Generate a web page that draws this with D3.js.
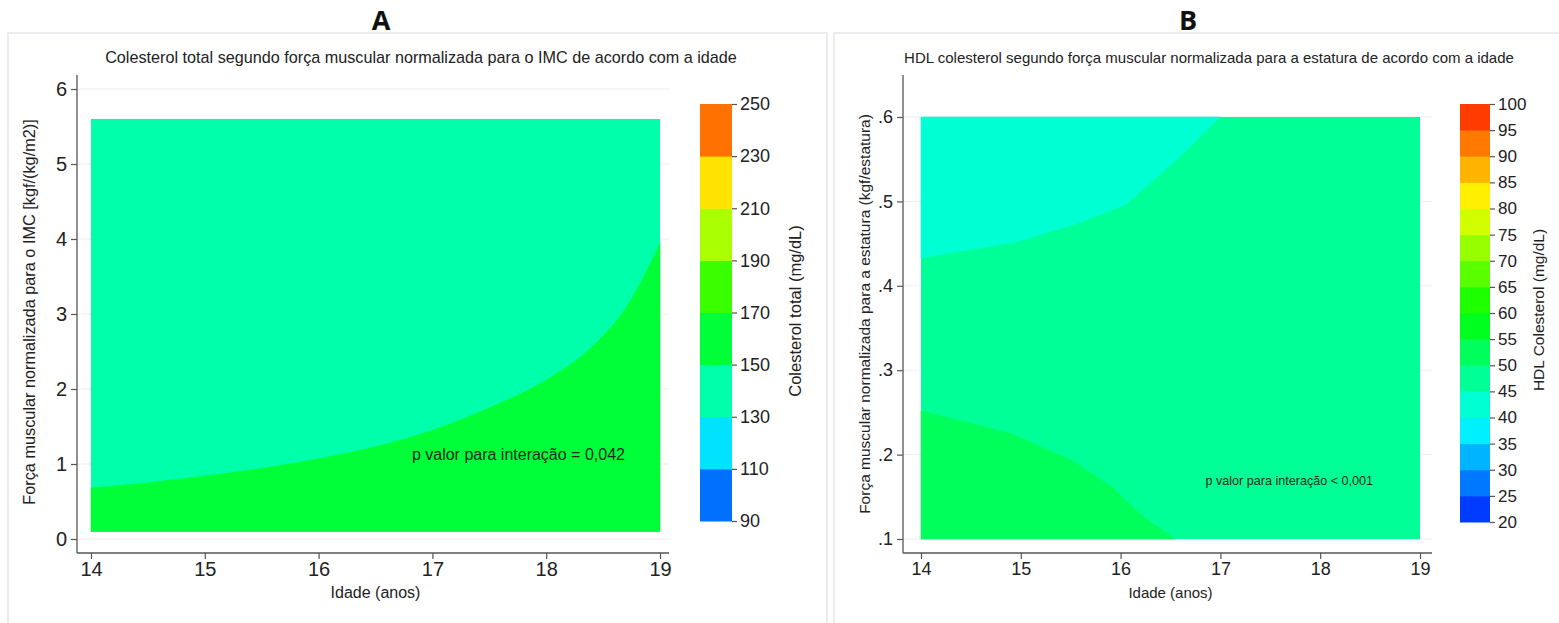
<!DOCTYPE html>
<html>
<head>
<meta charset="utf-8">
<script src="https://cdn.jsdelivr.net/npm/d3@7"></script>
<style>
  html, body { margin: 0; padding: 0; background: #fff; }
  svg { display: block; font-family: "Liberation Sans", Arial, sans-serif; }
</style>
</head>
<body>
<svg id="chart" width="1559" height="623"></svg>
<script>
// ---- data ----
const ageTicks = [14, 15, 16, 17, 18, 19];
const ageDomain = [14, 19];

// Panel A: total cholesterol by BMI-normalised strength and age
const forceTicksA = [0, 1, 2, 3, 4, 5, 6];
const forceRangeA = [0.1, 5.6];
const cutsA = [90, 110, 130, 150, 170, 190, 210, 230, 250];
// contour line separating the 130–150 band (above) from the 150–170 band (below)
const contourA150 = [
  [14.0, 0.68], [14.5, 0.75], [15.0, 0.84], [15.5, 0.94], [16.0, 1.07],
  [16.5, 1.23], [17.0, 1.45], [17.5, 1.75], [18.0, 2.12], [18.4, 2.56],
  [18.7, 3.08], [19.0, 3.94]
];
const baseBandA = 130;   // band filling the rest of the surface
const lowBandA = 150;    // band under the contour

// Panel B: HDL cholesterol by height-normalised strength and age
const forceTicksB = [0.1, 0.2, 0.3, 0.4, 0.5, 0.6];
const forceRangeB = [0.1, 0.6];
const cutsB = [20, 25, 30, 35, 40, 45, 50, 55, 60, 65, 70, 75, 80, 85, 90, 95, 100];
// contour at 45 mg/dL (40–45 band lies above it, top-left corner)
const contourB45 = [
  [14.0, 0.433], [14.96, 0.452], [15.57, 0.474], [16.05, 0.496],
  [16.54, 0.547], [17.0, 0.6]
];
// contour at 50 mg/dL (50–55 band lies below it, bottom-left corner)
const contourB50 = [
  [14.0, 0.252], [14.92, 0.224], [15.51, 0.193], [15.92, 0.161],
  [16.19, 0.130], [16.54, 0.1]
];
const baseBandB = 45;
const topBandB = 40;
const lowBandB = 50;

const titleA = "Colesterol total segundo força muscular normalizada para o IMC de acordo com a idade";
const titleB = "HDL colesterol segundo força muscular normalizada para a estatura de acordo com a idade";
const yTitleA = "Força muscular normalizada para o IMC [kgf/(kg/m2)]";
const yTitleB = "Força muscular normalizada para a estatura (kgf/estatura)";
const xTitle = "Idade (anos)";
const legendTitleA = "Colesterol total (mg/dL)";
const legendTitleB = "HDL Colesterol (mg/dL)";
const noteA = { text: "p valor para interação = 0,042", age: 16.82, force: 1.12 };
const noteB = { text: "p valor para interação < 0,001", age: 16.85, force: 0.17 };

// ---- helpers ----
const svg = d3.select("#chart");

// colour of band i among n bands: hue walks from blue toward red
function bandColor(i, n) {
  const hue = 240 - (i + 1) * 240 / (n + 1);
  return d3.hsl(hue, 1, 0.5).formatHex();
}
function colorFor(cuts, lowValue) {
  const n = cuts.length - 1;
  return bandColor(cuts.indexOf(lowValue), n);
}

function drawPanel(cfg) {
  const g = svg.append("g");

  // panel frame
  g.append("rect")
    .attr("x", cfg.frame[0]).attr("y", cfg.frame[1])
    .attr("width", cfg.frame[2]).attr("height", cfg.frame[3])
    .attr("fill", "#fff").attr("stroke", "#e3e6ea").attr("stroke-width", 1.5);

  // panel letter
  svg.append("text")
    .attr("x", cfg.letterX).attr("y", 30)
    .attr("text-anchor", "middle")
    .attr("font-family", "'Open Sans', sans-serif")
    .attr("font-weight", "bold").attr("font-size", 27)
    .attr("fill", "#111")
    .text(cfg.letter);

  // chart title
  g.append("text")
    .attr("x", cfg.titleX).attr("y", 63)
    .attr("text-anchor", "middle")
    .attr("font-size", cfg.titleSize).attr("fill", "#222")
    .text(cfg.title);

  const x = d3.scaleLinear().domain(ageDomain).range(cfg.xRange);
  const y = d3.scaleLinear().domain(cfg.yDomain).range(cfg.yRange);

  // horizontal grid lines
  g.append("g").selectAll("line").data(cfg.yTicks).join("line")
    .attr("x1", cfg.axisX).attr("x2", cfg.axisXEnd)
    .attr("y1", d => y(d)).attr("y2", d => y(d))
    .attr("stroke", "#eceef0").attr("stroke-width", 1);

  // contour surface
  const [fLo, fHi] = cfg.fillRange;
  g.append("rect")
    .attr("x", x(ageDomain[0])).attr("y", y(fHi))
    .attr("width", x(ageDomain[1]) - x(ageDomain[0]))
    .attr("height", y(fLo) - y(fHi))
    .attr("fill", colorFor(cfg.cuts, cfg.baseBand));

  cfg.regions.forEach(r => {
    const area = d3.area()
      .x(d => x(d[0]))
      .y0(d => y(r.below ? fLo : d[1]))
      .y1(d => y(r.below ? d[1] : fHi))
      .curve(r.curve);
    g.append("path")
      .datum(r.points)
      .attr("d", area)
      .attr("fill", colorFor(cfg.cuts, r.band))
      .attr("stroke", colorFor(cfg.cuts, r.band))
      .attr("stroke-width", 0.6);
  });

  // interaction note
  g.append("text")
    .attr("x", x(cfg.note.age)).attr("y", y(cfg.note.force) + 5)
    .attr("font-size", cfg.noteSize).attr("fill", "#1c2a1c")
    .text(cfg.note.text);

  // axes
  const yAxis = d3.axisLeft(y).tickValues(cfg.yTicks).tickSize(6).tickPadding(4)
    .tickFormat(cfg.yFormat);
  const ya = g.append("g").attr("transform", `translate(${cfg.axisX},0)`).call(yAxis);
  ya.select(".domain").attr("d", `M0,${cfg.axisYTop}V${cfg.axisY}`);

  const xAxis = d3.axisBottom(x).tickValues(ageTicks).tickSize(6).tickPadding(3)
    .tickFormat(d3.format("d"));
  const xa = g.append("g").attr("transform", `translate(0,${cfg.axisY})`).call(xAxis);
  xa.select(".domain").attr("d", `M${cfg.axisX},0H${cfg.axisXEnd}`);

  [ya, xa].forEach(a => {
    a.selectAll(".domain").attr("stroke", "#555").attr("stroke-width", 1.3);
    a.selectAll(".tick line").attr("stroke", "#555").attr("stroke-width", 1.2);
    a.selectAll(".tick text").attr("fill", "#222").attr("font-family", "'Liberation Sans', Arial, sans-serif");
  });
  ya.selectAll(".tick text").attr("font-size", cfg.tickSize);
  xa.selectAll(".tick text").attr("font-size", cfg.tickSize);

  // axis titles
  g.append("text")
    .attr("x", (cfg.xRange[0] + cfg.xRange[1]) / 2).attr("y", cfg.xTitleY)
    .attr("text-anchor", "middle").attr("font-size", cfg.xTitleSize).attr("fill", "#222")
    .text(xTitle);
  g.append("text")
    .attr("transform", `translate(${cfg.yTitleX},${cfg.yTitleY}) rotate(-90)`)
    .attr("text-anchor", "middle").attr("font-size", cfg.yTitleSize).attr("fill", "#222")
    .text(cfg.yTitle);

  // colour legend
  const ly = d3.scaleLinear()
    .domain([cfg.cuts[0], cfg.cuts[cfg.cuts.length - 1]])
    .range(cfg.legendRange);
  const lg = g.append("g");
  lg.selectAll("rect").data(d3.pairs(cfg.cuts)).join("rect")
    .attr("x", cfg.legendX).attr("width", cfg.legendW)
    .attr("y", d => ly(d[1])).attr("height", d => ly(d[0]) - ly(d[1]) + 0.5)
    .attr("fill", d => colorFor(cfg.cuts, d[0]));
  const lAxis = d3.axisRight(ly).tickValues(cfg.cuts).tickSize(5).tickPadding(3)
    .tickFormat(d3.format("d"));
  const la = lg.append("g").attr("transform", `translate(${cfg.legendX + cfg.legendW},0)`).call(lAxis);
  la.select(".domain").remove();
  la.selectAll(".tick line").attr("stroke", "#555").attr("stroke-width", 1.2);
  la.selectAll(".tick text").attr("fill", "#222").attr("font-size", cfg.legendSize)
    .attr("font-family", "'Liberation Sans', Arial, sans-serif");
  g.append("text")
    .attr("transform", `translate(${cfg.legendTitleX},${cfg.legendTitleY}) rotate(-90)`)
    .attr("text-anchor", "middle").attr("font-size", cfg.legendTitleSize).attr("fill", "#222")
    .text(cfg.legendTitle);
}

drawPanel({
  frame: [8, 33, 819, 620],
  letter: "A", letterX: 381,
  title: titleA, titleX: 421, titleSize: 16.2,
  xRange: [91, 660], yDomain: [0, 6], yRange: [539, 89],
  yTicks: forceTicksA, yFormat: d3.format("d"),
  axisX: 77, axisXEnd: 669, axisY: 553, axisYTop: 75,
  fillRange: forceRangeA, cuts: cutsA, baseBand: baseBandA,
  regions: [
    { points: contourA150, band: lowBandA, below: true, curve: d3.curveMonotoneX }
  ],
  note: noteA, noteSize: 16,
  tickSize: 20, xTitleSize: 16, xTitleY: 598,
  yTitle: yTitleA, yTitleSize: 16.3, yTitleX: 35, yTitleY: 312,
  legendX: 700, legendW: 32, legendRange: [521, 104], legendSize: 18,
  legendTitle: legendTitleA, legendTitleSize: 16.5, legendTitleX: 801, legendTitleY: 311
});

drawPanel({
  frame: [834, 33, 740, 620],
  letter: "B", letterX: 1188,
  title: titleB, titleX: 1209, titleSize: 15,
  xRange: [921, 1420], yDomain: [0.1, 0.6], yRange: [539, 117],
  yTicks: forceTicksB, yFormat: d => d3.format(".1f")(d).replace(/^0/, ""),
  axisX: 903, axisXEnd: 1432, axisY: 553, axisYTop: 75,
  fillRange: forceRangeB, cuts: cutsB, baseBand: baseBandB,
  regions: [
    { points: contourB45, band: topBandB, below: false, curve: d3.curveLinear },
    { points: contourB50, band: lowBandB, below: true, curve: d3.curveLinear }
  ],
  note: noteB, noteSize: 12.6,
  tickSize: 18, xTitleSize: 15, xTitleY: 598,
  yTitle: yTitleB, yTitleSize: 15.5, yTitleX: 870, yTitleY: 314,
  legendX: 1460, legendW: 30, legendRange: [522, 104], legendSize: 17,
  legendTitle: legendTitleB, legendTitleSize: 15.5, legendTitleX: 1544, legendTitleY: 310
});
</script>
</body>
</html>
